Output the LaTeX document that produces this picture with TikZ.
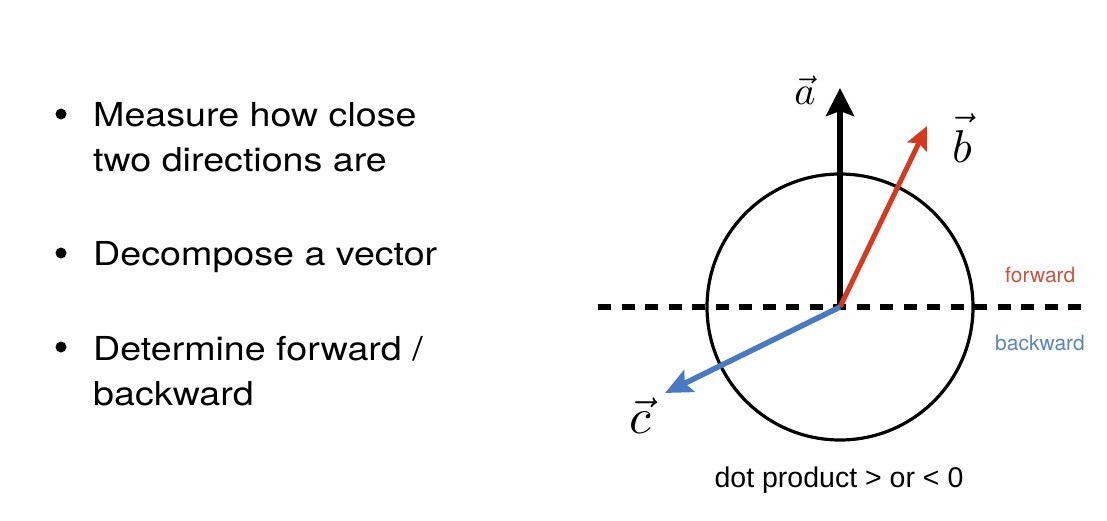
\documentclass[tikz,border=0pt]{standalone}
\usepackage{fontspec}
\setmainfont{TeX Gyre Heros}
\newfontfamily\bulletfont{TeX Gyre Heros}[FakeStretch=1.14]
\newfontfamily\arialfont{Liberation Sans}
\usetikzlibrary{arrows.meta}
\definecolor{vred}{RGB}{214,58,30}
\definecolor{vblue}{RGB}{72,122,196}
\definecolor{lred}{RGB}{204,84,62}
\definecolor{lblue}{RGB}{92,130,192}
\tikzset{
  btxt/.style={anchor=base west, inner sep=0pt, font=\bulletfont\fontsize{33}{33}\selectfont},
  bdot/.style={circle, fill=black, inner sep=0pt, minimum size=11pt},
  veclab/.style={inner sep=0pt, anchor=base},
  small/.style={inner sep=0pt, font=\fontsize{21}{21}\selectfont},
}
\begin{document}
\begin{tikzpicture}[x=1pt,y=-1pt]
\useasboundingbox (0,0) rectangle (1107,521);
% bullets
\node[bdot] (d1) at (61,114) {};
\node[btxt] (t1) at (93,126.7) {Measure how close};
\node[btxt] (t1b) at (93,171.7) {two directions are};
\node[bdot] (d2) at (61,253) {};
\node[btxt] (t2) at (93,265.5) {Decompose a vector};
\node[bdot] (d3) at (61,347) {};
\node[btxt] (t3) at (93,360) {Determine forward /};
\node[btxt] (t3b) at (93,405) {backward};
% diagram
\coordinate (O) at (840,307);
\coordinate (dl) at (598,307);
\coordinate (dr) at (1081,307);
\draw[line width=5.5pt, dash pattern=on 13pt off 10.5pt] (dl) -- (dr);
\draw[line width=3.2pt] (O) circle[radius=133];
\coordinate (A) at (840,88);
\coordinate (B) at (927,126);
\coordinate (C) at (665,393);
\draw[line width=6.5pt, -{Stealth[length=28pt,width=28pt,inset=5pt]}] (O) -- (A);
\draw[vred, line width=5pt, -{Stealth[length=23pt,width=21pt,inset=4pt]}] (O) -- (B);
\draw[vblue, line width=5.5pt, -{Stealth[length=27pt,width=24pt,inset=5pt]}] (O) -- (C);
\node[veclab, scale=4] (la) at (805,105) {$\vec{a}$};
\node[veclab, scale=4.6] (lb) at (962,163) {$\vec{\rule{0pt}{7.8pt}\smash{b}}$};
\node[veclab, scale=5] (lc) at (640,433) {$\vec{c}$};
\node[small, text=lred, anchor=base west] (fw) at (1005,282.5) {forward};
\node[small, text=lblue, anchor=base west] (bw) at (995,350) {backward};
\node[inner sep=0pt, anchor=base, font=\arialfont\fontsize{28.5}{28.5}\selectfont] (dp) at (839,487.5) {dot product > or < 0};
\end{tikzpicture}
\end{document}
